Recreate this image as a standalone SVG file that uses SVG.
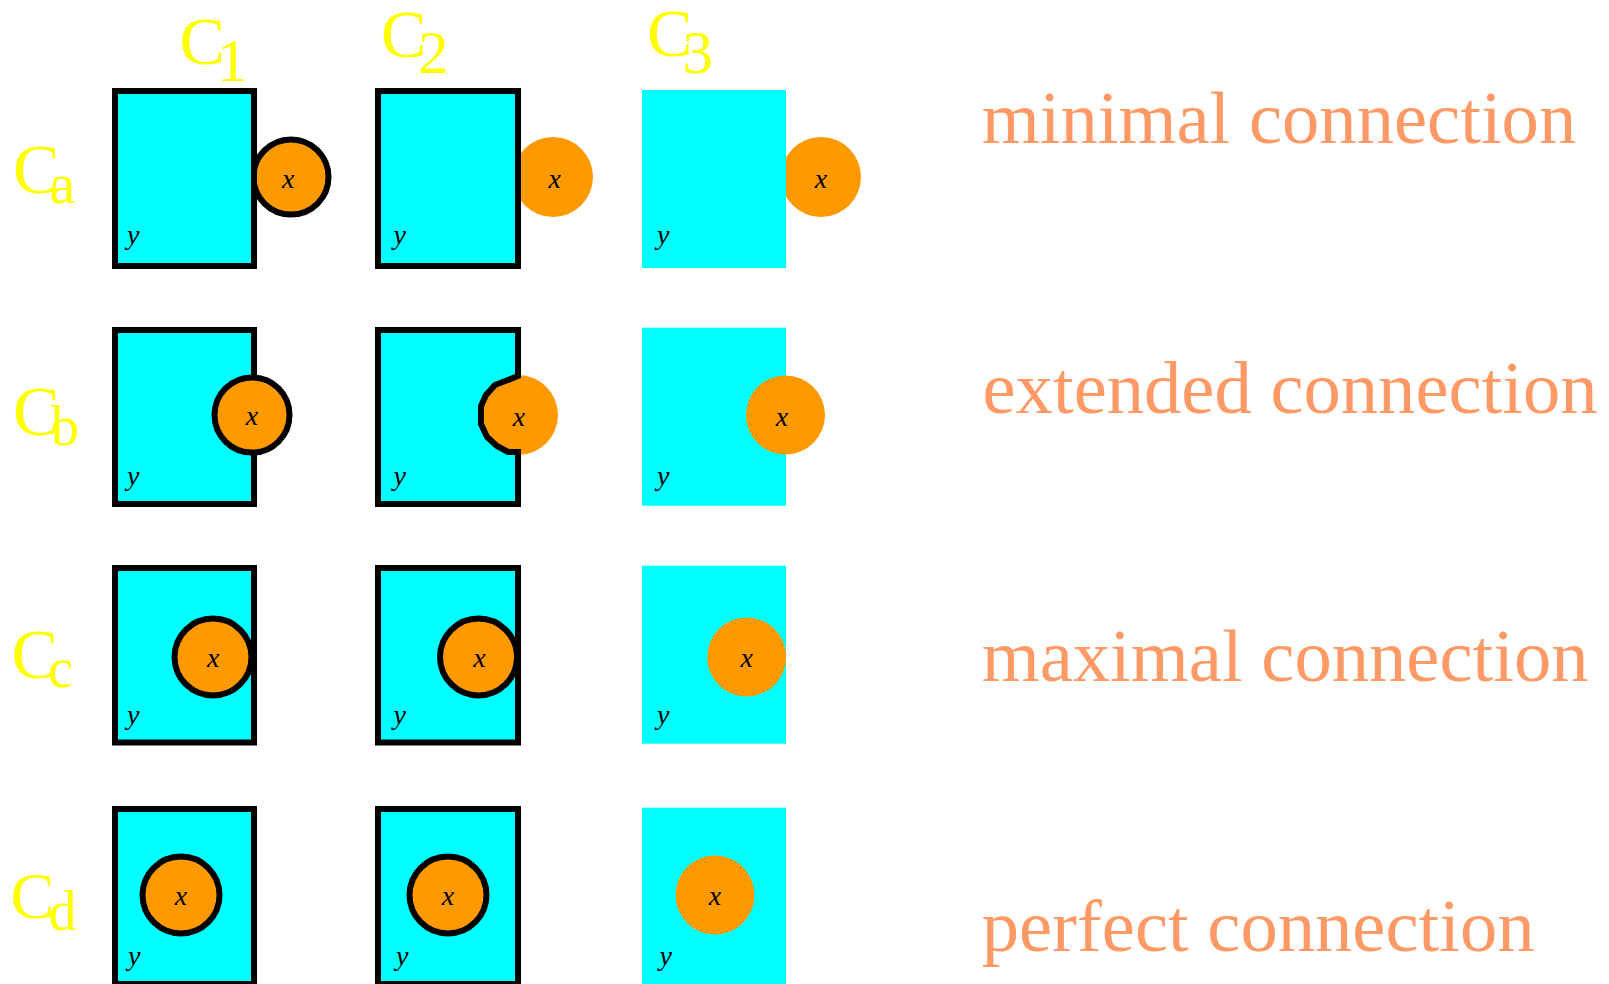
<svg xmlns="http://www.w3.org/2000/svg" width="1609" height="984" viewBox="0 0 1609 984">
  <style>
    .box { fill: #00FFFF; stroke: #000; stroke-width: 6; }
    .area { fill: #00FFFF; }
    .dot { fill: #FF9900; }
    .ring { fill: #FF9900; stroke: #000; stroke-width: 6; }
    .var { font-family: "Liberation Serif", "Times New Roman", serif; font-style: italic; font-size: 28px; fill: #000; }
    .hdr { font-family: "Liberation Serif", "Times New Roman", serif; fill: #FFFF00; }
    .name { font-family: "Liberation Serif", "Times New Roman", serif; font-size: 74.6px; fill: #FF9966; }
  </style>
  <rect width="1609" height="984" fill="#fff"/>

  <!-- column headers -->
  <g id="col-headers" class="hdr">
    <text x="179.5" y="63.5" font-size="68">C</text><text x="217" y="81" font-size="61">1</text>
    <text x="381" y="56.7" font-size="68">C</text><text x="418" y="73.3" font-size="61">2</text>
    <text x="647" y="56" font-size="68">C</text><text x="682.5" y="73.3" font-size="61">3</text>
  </g>

  <!-- row headers -->
  <g id="row-headers" class="hdr">
    <text x="13" y="193.3" font-size="70">C</text><text x="49.5" y="203" font-size="58">a</text>
    <text x="13" y="435" font-size="70">C</text><text x="51" y="445" font-size="56">b</text>
    <text x="11.5" y="677.7" font-size="70">C</text><text x="48" y="686.5" font-size="56">c</text>
    <text x="10.5" y="918.3" font-size="66">C</text><text x="48.5" y="929.5" font-size="56">d</text>
  </g>

  <!-- row a: minimal connection -->
  <g id="cell-a1">
    <circle class="ring" cx="291" cy="177" r="37.5"/>
    <rect class="box" x="115" y="91" width="139" height="175"/>
    <text class="var" x="288.3" y="187.7" text-anchor="middle">x</text>
    <text class="var" x="127" y="244">y</text>
  </g>
  <g id="cell-a2">
    <circle class="dot" cx="553" cy="177" r="40"/>
    <rect class="box" x="378" y="91" width="140" height="175"/>
    <text class="var" x="554.7" y="187.7" text-anchor="middle">x</text>
    <text class="var" x="393.5" y="244">y</text>
  </g>
  <g id="cell-a3">
    <circle class="dot" cx="821" cy="177" r="40"/>
    <rect class="area" x="642" y="90" width="144" height="178"/>
    <text class="var" x="821" y="187.7" text-anchor="middle">x</text>
    <text class="var" x="657" y="244">y</text>
  </g>
  <text id="label-a" class="name" x="981.7" y="143.3">minimal connection</text>

  <!-- row b: extended connection -->
  <g id="cell-b1">
    <rect class="box" x="115" y="330" width="139" height="174"/>
    <circle class="ring" cx="252" cy="415" r="37.5"/>
    <text class="var" x="252" y="425" text-anchor="middle">x</text>
    <text class="var" x="127" y="485">y</text>
  </g>
  <g id="cell-b2">
    <circle class="dot" cx="518" cy="415" r="40"/>
    <path class="box" d="M518,376 L518,330 L378,330 L378,504 L518,504 L518,452 L508,452 L497,446 L487,437 L481,424 L481,406 L486,395 L495,385 Z"/>
    <text class="var" x="519" y="425.7" text-anchor="middle">x</text>
    <text class="var" x="393.5" y="485">y</text>
  </g>
  <g id="cell-b3">
    <rect class="area" x="642" y="327.7" width="144" height="178"/>
    <circle class="dot" cx="785.5" cy="415" r="39.5"/>
    <text class="var" x="782" y="425.7" text-anchor="middle">x</text>
    <text class="var" x="657" y="485">y</text>
  </g>
  <text id="label-b" class="name" x="982.5" y="412.7">extended connection</text>

  <!-- row c: maximal connection -->
  <g id="cell-c1">
    <rect class="box" x="115" y="568" width="139" height="174.5"/>
    <circle class="ring" cx="213" cy="657" r="38.5"/>
    <text class="var" x="213.3" y="667.3" text-anchor="middle">x</text>
    <text class="var" x="127" y="724">y</text>
  </g>
  <g id="cell-c2">
    <rect class="box" x="378" y="568" width="140" height="174.5"/>
    <circle class="ring" cx="478.5" cy="657" r="38.5"/>
    <text class="var" x="479.5" y="667.3" text-anchor="middle">x</text>
    <text class="var" x="393.5" y="724">y</text>
  </g>
  <g id="cell-c3">
    <rect class="area" x="642" y="565.7" width="144" height="178"/>
    <circle class="dot" cx="746.7" cy="657" r="39.5"/>
    <text class="var" x="746.7" y="667.3" text-anchor="middle">x</text>
    <text class="var" x="657" y="724">y</text>
  </g>
  <text id="label-c" class="name" x="981.7" y="681">maximal connection</text>

  <!-- row d: perfect connection -->
  <g id="cell-d1">
    <rect class="box" x="115" y="809" width="139" height="175"/>
    <circle class="ring" cx="181" cy="895" r="38.5"/>
    <text class="var" x="181" y="905" text-anchor="middle">x</text>
    <text class="var" x="128" y="965">y</text>
  </g>
  <g id="cell-d2">
    <rect class="box" x="378" y="809" width="140" height="175"/>
    <circle class="ring" cx="448" cy="895" r="38.5"/>
    <text class="var" x="448" y="905" text-anchor="middle">x</text>
    <text class="var" x="396" y="965">y</text>
  </g>
  <g id="cell-d3">
    <rect class="area" x="642" y="807.7" width="144" height="180"/>
    <circle class="dot" cx="715" cy="895" r="39.5"/>
    <text class="var" x="715" y="905" text-anchor="middle">x</text>
    <text class="var" x="659.5" y="965">y</text>
  </g>
  <text id="label-d" class="name" x="981.7" y="951">perfect connection</text>
</svg>
